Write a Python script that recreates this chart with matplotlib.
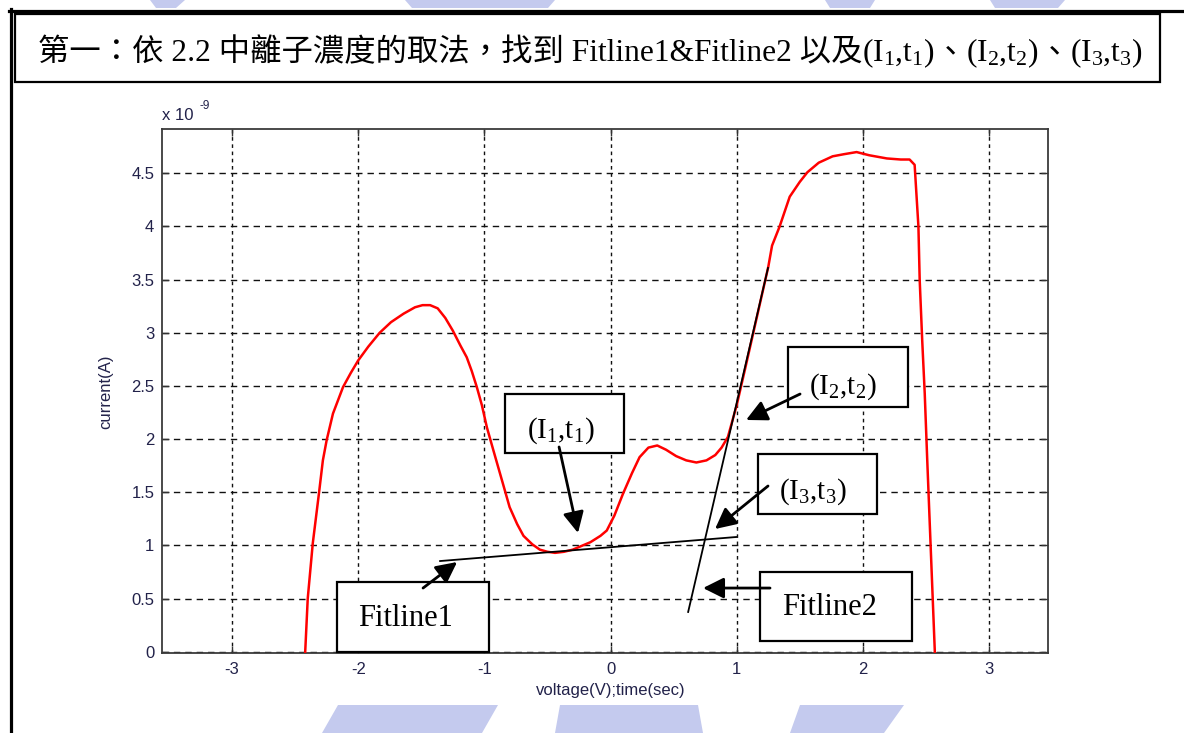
import matplotlib
matplotlib.use("Agg")
import matplotlib.pyplot as plt
from matplotlib.patches import Rectangle, Polygon
from matplotlib.lines import Line2D

# ---------------- data ----------------
voltage = [-2.42, -2.40, -2.36, -2.31, -2.28, -2.25, -2.20, -2.12, -2.06, -2.00,
           -1.92, -1.83, -1.74, -1.64, -1.55, -1.49, -1.43, -1.37, -1.31, -1.25,
           -1.19, -1.14, -1.10, -1.06, -1.02, -0.98, -0.93, -0.86, -0.80, -0.74,
           -0.69, -0.62, -0.56, -0.50, -0.44, -0.37, -0.30, -0.24, -0.16, -0.08,
           -0.03, 0.03, 0.10, 0.17, 0.23, 0.30, 0.37, 0.44, 0.52, 0.60,
           0.68, 0.76, 0.83, 0.88, 0.93, 1.00, 1.07, 1.16, 1.25, 1.28,
           1.34, 1.42, 1.50, 1.56, 1.65, 1.76, 1.85, 1.95, 2.05, 2.19,
           2.30, 2.37, 2.41, 2.44, 2.45, 2.47, 2.49, 2.51, 2.53, 2.55, 2.57]
current_nA = [0.00, 0.50, 1.02, 1.50, 1.80, 1.99, 2.24, 2.49, 2.62, 2.74,
              2.87, 3.00, 3.10, 3.18, 3.24, 3.26, 3.26, 3.23, 3.14, 3.02,
              2.88, 2.77, 2.64, 2.49, 2.32, 2.11, 1.90, 1.61, 1.36, 1.20,
              1.09, 1.01, 0.96, 0.94, 0.93, 0.94, 0.96, 0.99, 1.03, 1.09,
              1.14, 1.28, 1.49, 1.68, 1.83, 1.92, 1.94, 1.90, 1.84, 1.80,
              1.78, 1.80, 1.85, 1.92, 2.02, 2.32, 2.68, 3.15, 3.62, 3.82,
              4.00, 4.28, 4.42, 4.51, 4.60, 4.66, 4.68, 4.70, 4.67, 4.64,
              4.63, 4.63, 4.58, 4.00, 3.50, 2.93, 2.43, 1.80, 1.20, 0.60, 0.00]

fitline1_x = [-1.351, 0.995]
fitline1_y = [0.853, 1.079]
fitline2_x = [0.615, 1.248]
fitline2_y = [0.374, 3.610]

x_ticks = [-3, -2, -1, 0, 1, 2, 3]
x_tick_labels = ["-3", "-2", "-1", "0", "1", "2", "3"]
y_ticks = [0, 0.5, 1, 1.5, 2, 2.5, 3, 3.5, 4, 4.5]
y_tick_labels = ["0", "0.5", "1", "1.5", "2", "2.5", "3", "3.5", "4", "4.5"]

x_label = "voltage(V);time(sec)"
y_label = "current(A)"
y_scale_label = "x 10"
y_scale_exp = "-9"

title_pieces = [("第一：依 2.2 中離子濃度的取法，找到 Fitline1&Fitline2 以及", "plain"),
                (r"(I$_1$,t$_1$)", "math"),
                ("、", "plain"),
                (r"(I$_2$,t$_2$)", "math"),
                ("、", "plain"),
                (r"(I$_3$,t$_3$)", "math")]

# annotation boxes: label, box (x0, x1, y0, y1), text centre, arrow tail, arrow head (data coords)
annotations = [
    ("Fitline1", (-2.167, -0.963, -0.003, 0.656), (-1.628, 0.317), (-1.486, 0.599), (-1.216, 0.844)),
    (r"(I$_1$,t$_1$)", (-0.836, 0.107, 1.869, 2.424), (-0.392, 2.076), (-0.408, 1.926), (-0.258, 1.117)),
    (r"(I$_2$,t$_2$)", (1.406, 2.357, 2.302, 2.866), (1.842, 2.490), (1.502, 2.424), (1.074, 2.180)),
    (r"(I$_3$,t$_3$)", (1.169, 2.112, 1.295, 1.860), (1.604, 1.502), (1.248, 1.559), (0.828, 1.154)),
    ("Fitline2", (1.185, 2.389, 0.101, 0.750), (1.739, 0.420), (1.264, 0.599), (0.733, 0.599)),
]

# ---------------- style ----------------
plt.rcParams["font.family"] = ["Liberation Sans", "DejaVu Sans"]
plt.rcParams["axes.unicode_minus"] = False
plt.rcParams["mathtext.fontset"] = "custom"
plt.rcParams["mathtext.rm"] = "Liberation Serif"
plt.rcParams["mathtext.it"] = "Liberation Serif:italic"
plt.rcParams["mathtext.bf"] = "Liberation Serif:bold"
plt.rcParams["mathtext.default"] = "rm"

W, H = 1184, 733
fig = plt.figure(figsize=(W / 100, H / 100), dpi=100)
fig.patch.set_facecolor("white")

# faint watermark shapes
wm = "#c4caee"
for poly in [
    [(322, 733), (338, 705), (498, 705), (482, 733)],
    [(555, 733), (560, 705), (698, 705), (703, 733)],
    [(790, 733), (800, 705), (904, 705), (884, 733)],
    [(150, 0), (185, 0), (176, 8), (156, 8)],
    [(405, 0), (555, 0), (548, 8), (412, 8)],
    [(825, 0), (875, 0), (870, 8), (830, 8)],
    [(990, 0), (1065, 0), (1058, 8), (995, 8)],
]:
    fig.add_artist(Polygon([(px / W, 1 - py / H) for px, py in poly], closed=True,
                           transform=fig.transFigure, facecolor=wm, edgecolor="none", zorder=0))

# page frame lines
fig.add_artist(Line2D([10.5 / W, 10.5 / W], [1 - 9 / H, 0], transform=fig.transFigure,
                      color="black", lw=2.3, zorder=5))
fig.add_artist(Line2D([9 / W, 1], [1 - 10.5 / H, 1 - 10.5 / H], transform=fig.transFigure,
                      color="black", lw=2.3, zorder=5))
# title box
fig.add_artist(Rectangle((14.5 / W, 1 - 82 / H), (1160 - 14.5) / W, (82 - 14) / H,
                         transform=fig.transFigure, facecolor="white", edgecolor="black",
                         lw=1.6, zorder=4))

renderer = fig.canvas.get_renderer()


def layout_title(fs):
    arts = []
    x = 38.0
    for s, kind in title_pieces:
        fam = ["Liberation Serif", "Noto Sans CJK TC"] if kind == "plain" else ["Liberation Serif"]
        t = fig.text(x / W, 1 - 61 / H, s, fontsize=fs, family=fam, va="baseline",
                     ha="left", color="black", zorder=6)
        x += t.get_window_extent(renderer).width
        arts.append(t)
    return arts, x - 38.0


arts, tw = layout_title(21)
scale = min(max(1101.0 / tw, 0.9), 1.1)
for a in arts:
    a.remove()
arts, tw = layout_title(21 * scale)

# ---------------- axes ----------------
ax = fig.add_axes([162 / W, 1 - 653 / H, (1048 - 162) / W, (653 - 129) / H])
ax.set_xlim(-3.555, 3.467)
ax.set_ylim(-0.012, 4.917)

ax.plot(voltage, current_nA, color="#ff0000", lw=1.8, zorder=3)
ax.plot(fitline1_x, fitline1_y, color="black", lw=1.3, zorder=4)
ax.plot(fitline2_x, fitline2_y, color="black", lw=1.3, zorder=4)

ax.set_xticks(x_ticks)
ax.set_xticklabels(x_tick_labels)
ax.set_yticks(y_ticks)
ax.set_yticklabels(y_tick_labels)

tick_col = "#22224a"
ax.tick_params(direction="in", length=5, width=1, top=True, right=True,
               labelsize=12, labelcolor=tick_col, color="#333333")
ax.tick_params(axis="x", pad=6.5)
ax.tick_params(axis="y", pad=5.5)

ax.xaxis.grid(True, color="#111111", lw=1.0, linestyle=(0, (2.6, 2.6)))
ax.yaxis.grid(True, color="#111111", lw=1.0, linestyle=(0, (4.6, 3.6)))
ax.set_axisbelow(True)
for sp in ax.spines.values():
    sp.set_color("#3a3a3a")
    sp.set_linewidth(1.3)

ax.set_xlabel(x_label, fontsize=12, color=tick_col, va="center")
ax.xaxis.set_label_coords((611 - 162) / 886, (653 - 690) / 524)
ax.set_ylabel(y_label, fontsize=12, color=tick_col, va="center")
ax.yaxis.set_label_coords((106 - 162) / 886, (653 - 392) / 524)

fig.text(162 / W, 1 - 120 / H, y_scale_label, fontsize=12, color=tick_col, va="baseline", ha="left")
fig.text(200 / W, 1 - 109 / H, y_scale_exp, fontsize=8.5, color=tick_col, va="baseline", ha="left")

# annotation boxes and arrows
for label, (x0, x1, y0, y1), (tx, ty), (ax0, ay0), (ax1, ay1) in annotations:
    ax.add_patch(Rectangle((x0, y0), x1 - x0, y1 - y0, facecolor="white", edgecolor="black",
                           lw=1.6, zorder=5, clip_on=False))
    ax.text(tx, ty, label, fontsize=21 if "I" in label else 22, family=["Liberation Serif"],
            ha="center", va="center", color="black", zorder=6)
    ax.annotate("", xy=(ax1, ay1), xytext=(ax0, ay0),
                arrowprops=dict(arrowstyle="-|>,head_length=0.9,head_width=0.45",
                                mutation_scale=14, lw=2, color="black",
                                shrinkA=0, shrinkB=0),
                zorder=6)

fig.savefig("out.png", dpi=100)
